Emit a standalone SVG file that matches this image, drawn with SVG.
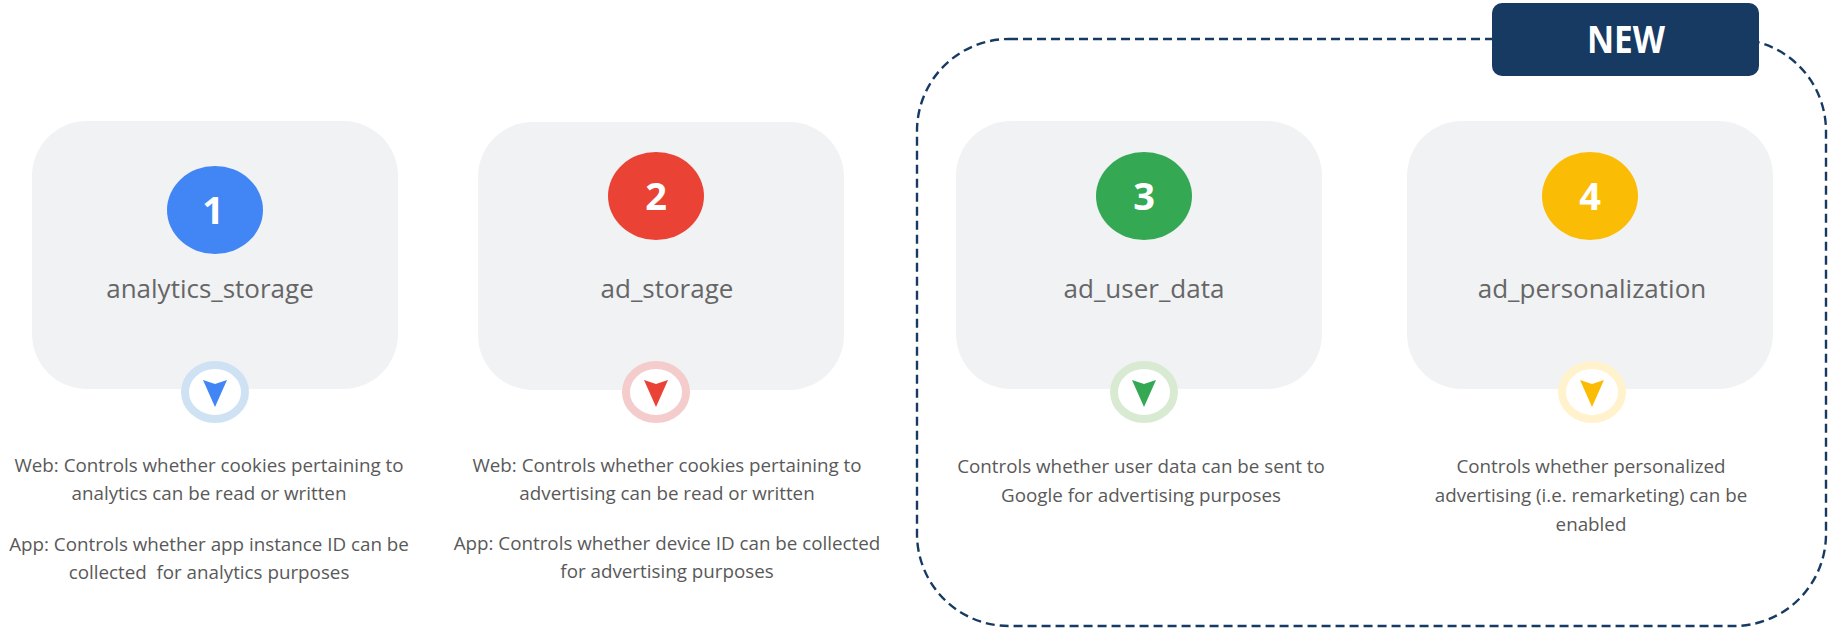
<svg xmlns="http://www.w3.org/2000/svg" width="1829" height="629" viewBox="0 0 1829 629">
<style>
.card{fill:#F1F2F4}
.num{font-family:"Open Sans","Liberation Sans",sans-serif;font-weight:700;font-size:38px;fill:#ffffff;text-anchor:middle}
.lbl{font-family:"Open Sans","Liberation Sans",sans-serif;font-size:26px;fill:#666666;text-anchor:middle}
.desc{font-family:"Open Sans","Liberation Sans",sans-serif;font-size:18.8px;fill:#595959;text-anchor:middle;white-space:pre}
.ring{fill:#ffffff;stroke-width:8}
.new{font-family:"Open Sans","Liberation Sans",sans-serif;font-weight:700;font-size:37px;fill:#ffffff;text-anchor:middle}
</style>
<rect width="1829" height="629" fill="#ffffff"/>
<g id="new-group">
<rect x="917" y="39" width="909" height="587" rx="92" ry="92" fill="none" stroke="#173A63" stroke-width="2.4" stroke-dasharray="9 5"/>
<rect x="1492" y="3" width="267" height="73" rx="10" ry="10" fill="#173A63"/>
<text class="new" x="1626" y="53" textLength="78" lengthAdjust="spacingAndGlyphs">NEW</text>
</g>
<g id="connectors"/>
<g id="node1">
<rect class="card" x="32" y="121" width="366" height="268" rx="55" ry="55"/>
<ellipse cx="215" cy="210" rx="48" ry="44" fill="#4285F4"/>
<text class="num" x="213" y="224">1</text>
<text class="lbl" x="210" y="298">analytics_storage</text>
<ellipse class="ring" cx="215" cy="392" rx="30" ry="27" stroke="#CFE2F3"/>
<path d="M203,380 L215,384 L227,380 L215,407 Z" fill="#4285F4"/>
<text class="desc" x="209" y="472">Web: Controls whether cookies pertaining to</text>
<text class="desc" x="209" y="500">analytics can be read or written</text>
<text class="desc" x="209" y="551">App: Controls whether app instance ID can be</text>
<text class="desc" x="209" y="579" xml:space="preserve">collected  for analytics purposes</text>
</g>
<g id="node2">
<rect class="card" x="478" y="122" width="366" height="268" rx="55" ry="55"/>
<ellipse cx="656" cy="196" rx="48" ry="44" fill="#EA4335"/>
<text class="num" x="656" y="210">2</text>
<text class="lbl" x="667" y="298">ad_storage</text>
<ellipse class="ring" cx="656" cy="392" rx="30" ry="27" stroke="#F4CCCC"/>
<path d="M644,380 L656,384 L668,380 L656,407 Z" fill="#EA4335"/>
<text class="desc" x="667" y="472">Web: Controls whether cookies pertaining to</text>
<text class="desc" x="667" y="500">advertising can be read or written</text>
<text class="desc" x="667" y="550">App: Controls whether device ID can be collected</text>
<text class="desc" x="667" y="578">for advertising purposes</text>
</g>
<g id="node3">
<rect class="card" x="956" y="121" width="366" height="268" rx="55" ry="55"/>
<ellipse cx="1144" cy="196" rx="48" ry="44" fill="#34A853"/>
<text class="num" x="1144" y="210">3</text>
<text class="lbl" x="1144" y="298">ad_user_data</text>
<ellipse class="ring" cx="1144" cy="392" rx="30" ry="27" stroke="#D9EAD3"/>
<path d="M1132,380 L1144,384 L1156,380 L1144,407 Z" fill="#34A853"/>
<text class="desc" x="1141" y="473">Controls whether user data can be sent to</text>
<text class="desc" x="1141" y="502">Google for advertising purposes</text>
</g>
<g id="node4">
<rect class="card" x="1407" y="121" width="366" height="268" rx="55" ry="55"/>
<ellipse cx="1590" cy="196" rx="48" ry="44" fill="#FBBC05"/>
<text class="num" x="1590" y="210">4</text>
<text class="lbl" x="1592" y="298">ad_personalization</text>
<ellipse class="ring" cx="1592" cy="392" rx="30" ry="27" stroke="#FFF2CC"/>
<path d="M1580,380 L1592,384 L1604,380 L1592,407 Z" fill="#FBBC05"/>
<text class="desc" x="1591" y="473">Controls whether personalized</text>
<text class="desc" x="1591" y="502">advertising (i.e. remarketing) can be</text>
<text class="desc" x="1591" y="531">enabled</text>
</g>
</svg>
